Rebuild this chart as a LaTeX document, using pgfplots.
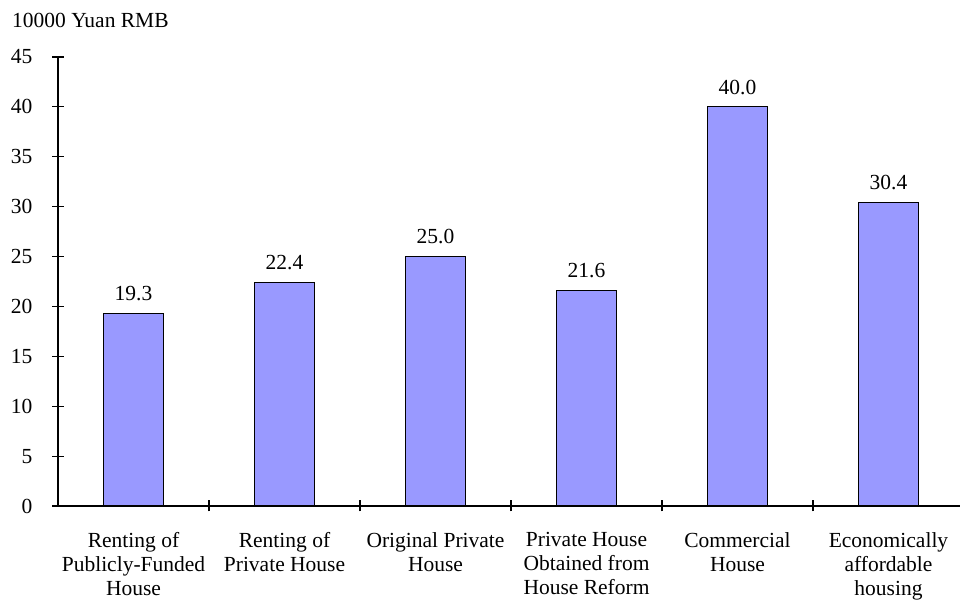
\documentclass[border=0pt]{standalone}
\usepackage{fontspec}
\setmainfont{Liberation Serif}
\usepackage{pgfplots}
\pgfplotsset{compat=1.18}
\definecolor{barfill}{RGB}{153,153,255}

\begin{document}
\begin{tikzpicture}
\useasboundingbox (-58pt,-95pt) rectangle (902pt,506pt);
\begin{axis}[
  at={(0pt,0pt)}, anchor=south west,
  scale only axis, width=902pt, height=449pt,
  xmin=-0.5, xmax=5.4735, ymin=0, ymax=45,
  axis x line=bottom, axis y line=left,
  axis line style={-, line width=1.2pt, black},
  ytick={0,5,...,45},
  xtick={0.5,1.5,2.5,3.5,4.5},
  xticklabels={},
  extra x ticks={0,1,2,3,4,5},
  extra x tick labels={{Renting of\\Publicly-Funded\\House},
    {Renting of\\Private House},
    {Original Private\\House},
    {Private House\\Obtained from\\House Reform},
    {Commercial\\House},
    {Economically\\affordable\\housing}},
  extra x tick style={major tick length=0pt},
  tick align=center, major tick length=11pt,
  tick style={line width=1.2pt, black},
  /pgf/number format/assume math mode=true,
  tick label style={font=\fontsize{21.5}{24}\selectfont},
  xticklabel style={anchor=north, align=center, inner sep=0pt, yshift=-26pt},
  yticklabel style={anchor=east, inner sep=0pt, xshift=-20pt},
  clip=false,
]
\addplot[ybar, bar width=60pt, fill=barfill, draw=black, line width=1pt,
  nodes near coords={\pgfmathprintnumber[fixed,fixed zerofill,precision=1]{\pgfplotspointmeta}},
  nodes near coords style={font=\fontsize{21.5}{24}\selectfont, anchor=south, inner sep=0pt, yshift=12pt},
] coordinates {(0,19.3) (1,22.4) (2,25.0) (3,21.6) (4,40.0) (5,30.4)};
\end{axis}
\node[anchor=base west, inner sep=0pt, font=\fontsize{21.5}{24}\selectfont] at (-46pt,478pt) {10000 Yuan RMB};
\end{tikzpicture}
\end{document}
